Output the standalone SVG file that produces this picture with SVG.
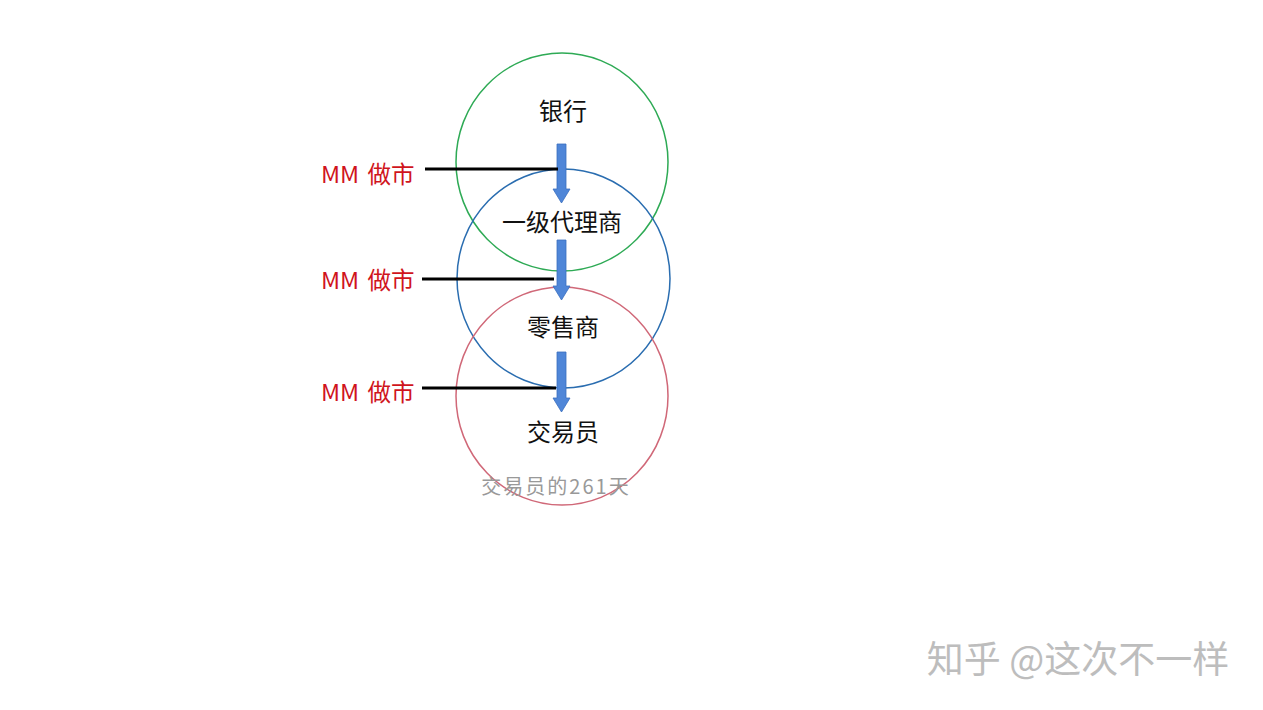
<svg xmlns="http://www.w3.org/2000/svg" width="1263" height="710" viewBox="0 0 1263 710">
<style>
.lbl{font-family:"Noto Sans CJK SC","Noto Sans",sans-serif;font-size:24px;fill:#111;text-anchor:middle}
.mm{font-family:"Noto Sans CJK SC","Noto Sans",sans-serif;font-size:23.5px;fill:#d0141c}
.ring{fill:none;stroke-width:1.5}
.arr{fill:#4f86d8;stroke:#3a6fbf;stroke-width:0.8}
.ln{stroke:#000;stroke-width:3}
</style>
<rect width="1263" height="710" fill="#fff"/>
<g id="circle-bank"><ellipse class="ring" cx="562" cy="162" rx="106" ry="109" stroke="#2eaa55"/><text class="lbl" x="563" y="120">银行</text></g>
<g id="circle-agent"><ellipse class="ring" cx="563.5" cy="278.5" rx="106.5" ry="109.5" stroke="#2a6db0"/><text class="lbl" x="562" y="231">一级代理商</text></g>
<g id="circle-retail"><ellipse class="ring" cx="562" cy="396" rx="106" ry="109" stroke="#d06878"/><text class="lbl" x="563" y="336">零售商</text></g>
<g id="node-trader"><text class="lbl" x="563" y="441">交易员</text></g>
<g id="connectors">
<path class="arr" d="M557,144 H566 V189 H570 L561.5,203 L553,189 H557 Z"/>
<path class="arr" d="M557,240 H566 V286 H570 L561.5,300 L553,286 H557 Z"/>
<path class="arr" d="M557,352 H566 V398 H570 L561.5,412 L553,398 H557 Z"/>
<line class="ln" x1="425" y1="169" x2="558" y2="169"/>
<line class="ln" x1="422" y1="279" x2="554" y2="279"/>
<line class="ln" x1="422" y1="388" x2="556" y2="388"/>
</g>
<g id="labels">
<text class="mm" x="321" y="183" word-spacing="3">MM 做市</text>
<text class="mm" x="321" y="289" word-spacing="3">MM 做市</text>
<text class="mm" x="321" y="401" word-spacing="3">MM 做市</text>
</g>
<text x="556" y="494" font-family="Noto Sans CJK SC,sans-serif" font-size="20" fill="#999" text-anchor="middle" letter-spacing="2">交易员的261天</text>
<text x="1078" y="673" font-family="Noto Sans CJK SC,sans-serif" font-size="37" fill="#bdbdbd" text-anchor="middle">知乎 @这次不一样</text>
</svg>
